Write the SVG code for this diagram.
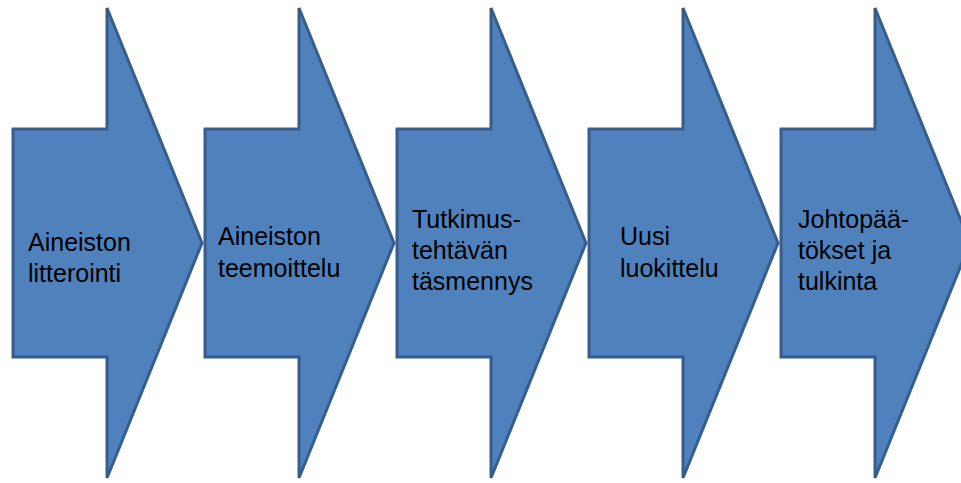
<svg xmlns="http://www.w3.org/2000/svg" width="961" height="483" viewBox="0 0 961 483">
<defs>
<style>
.arr{fill:#4F81BD;stroke:#385D8A;stroke-width:3;stroke-linejoin:miter}
.t{font-family:"Liberation Sans",Arial,sans-serif;font-size:25px;fill:#000}
</style>
<polygon id="shape" class="arr" points="0,121 94,121 94,0 189,235 94,470 94,349 0,349"/>
</defs>
<rect width="961" height="483" fill="#fff"/>
<g id="node1">
<use href="#shape" x="13" y="8"/>
<text class="t" x="28" y="251">Aineiston</text>
<text class="t" x="28" y="282">litterointi</text>
</g>
<g id="node2">
<use href="#shape" x="205" y="8"/>
<text class="t" x="218" y="245">Aineiston</text>
<text class="t" x="218" y="277">teemoittelu</text>
</g>
<g id="node3">
<use href="#shape" x="397" y="8"/>
<text class="t" x="412" y="228">Tutkimus-</text>
<text class="t" x="412" y="259">tehtävän</text>
<text class="t" x="412" y="290">täsmennys</text>
</g>
<g id="node4">
<use href="#shape" x="589" y="8"/>
<text class="t" x="620" y="245">Uusi</text>
<text class="t" x="620" y="277">luokittelu</text>
</g>
<g id="node5">
<use href="#shape" x="781" y="8"/>
<text class="t" x="798" y="228">Johtopää-</text>
<text class="t" x="798" y="259">tökset ja</text>
<text class="t" x="798" y="290">tulkinta</text>
</g>
<g id="connectors"></g>
</svg>
